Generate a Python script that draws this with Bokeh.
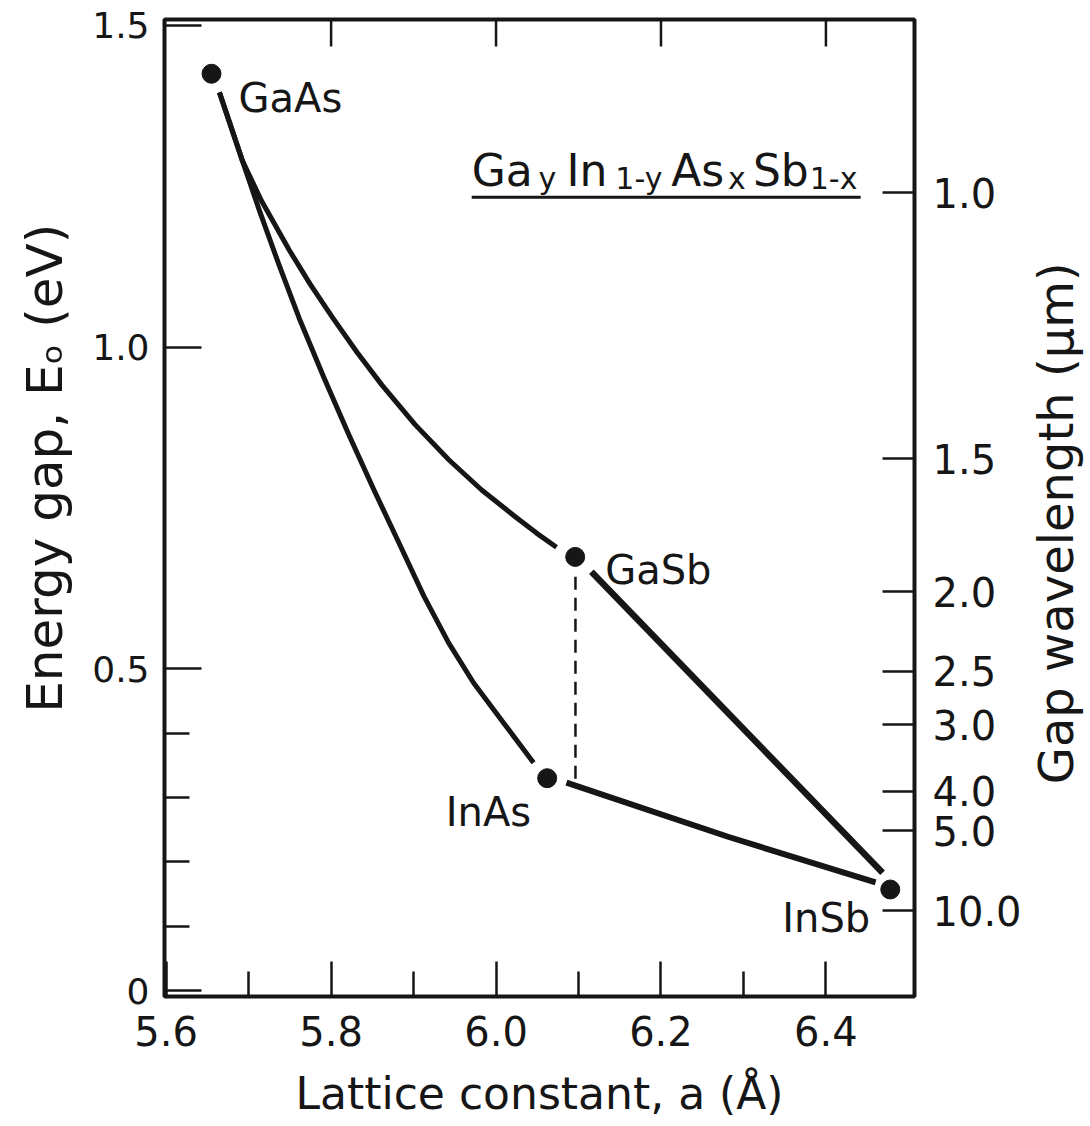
from bokeh.plotting import figure
from bokeh.models import FixedTicker, LinearAxis, Label, Range1d
from bokeh.layouts import row
from bokeh.embed import file_html
from bokeh.resources import INLINE
import math

# ---------------- data ----------------
compounds = ["GaAs", "GaSb", "InAs", "InSb"]
lattice_const = [5.655, 6.096, 6.062, 6.478]
energy_gap = [1.425, 0.674, 0.330, 0.157]

# GaAs -> GaSb (upper bowed curve)
gaas_gasb_a = [5.6646, 5.6924, 5.7154, 5.7492, 5.7746, 5.8012, 5.8314, 5.8617,
               5.9016, 5.9427, 5.9826, 6.0237, 6.0491, 6.0733]
gaas_gasb_eg = [1.396, 1.290, 1.228, 1.151, 1.098, 1.047, 0.992, 0.941,
                0.880, 0.825, 0.778, 0.736, 0.711, 0.689]

# GaAs -> InAs (lower bowed curve)
gaas_inas_a = [5.6646, 5.6924, 5.7129, 5.7371, 5.7613, 5.7915, 5.8218, 5.8520,
               5.8822, 5.9125, 5.9427, 5.9729, 6.0092, 6.0455]
gaas_inas_eg = [1.396, 1.290, 1.213, 1.127, 1.045, 0.952, 0.863, 0.778,
                0.696, 0.613, 0.540, 0.478, 0.416, 0.354]

# GaSb -> InSb
gasb_insb_a = [6.1156, 6.4687]
gasb_insb_eg = [0.651, 0.183]

# InAs -> InSb
inas_insb_a = [6.0854, 6.2813, 6.4602]
inas_insb_eg = [0.323, 0.239, 0.168]

# dashed lattice-matched line
match_a = [6.0963, 6.0963]
match_eg = [0.643, 0.328]

x_major_ticks = [5.6, 5.8, 6.0, 6.2, 6.4]
x_tick_labels = ["5.6", "5.8", "6.0", "6.2", "6.4"]
x_minor_ticks = [5.7, 5.9, 6.1, 6.3]
top_ticks = [5.8, 6.0, 6.2, 6.4]
y_major_ticks = [0.0, 0.5, 1.0, 1.5]
y_minor_ticks = [0.1, 0.2, 0.3, 0.4]
y_tick_labels = ["0", "0.5", "1.0", "1.5"]
wavelength_ticks = [1.0, 1.5, 2.0, 2.5, 3.0, 4.0, 5.0, 10.0]
wavelength_labels = ["1.0", "1.5", "2.0", "2.5", "3.0", "4.0", "5.0", "10.0"]
HC_EV_UM = 1.2398  # E(eV) = 1.2398 / lambda(um)

FONT = "DejaVu Sans"
INK = "#161616"
X0, X1 = 5.598, 6.5074
Y0, Y1 = -0.0093, 1.5093
H = 1124
TOP, BOT = 19, 128
NBSP = "\u00a0"


def bare_label_figure(width, border_left, text, font_px):
    """A narrow strip figure that only carries a (bottom-to-top) y-axis title."""
    f = figure(width=width, height=H, x_range=Range1d(0, 1), y_range=Range1d(0, 1),
               output_backend="svg", toolbar_location=None,
               min_border_left=border_left, min_border_right=0,
               min_border_top=TOP, min_border_bottom=BOT)
    f.outline_line_color = None
    f.background_fill_color = "white"
    f.border_fill_color = "white"
    f.xgrid.visible = False
    f.ygrid.visible = False
    f.xaxis.visible = False
    ax = f.yaxis[0]
    ax.ticker = FixedTicker(ticks=[], minor_ticks=[])
    ax.axis_line_color = None
    ax.major_tick_line_color = None
    ax.minor_tick_line_color = None
    ax.major_tick_out = 0
    ax.minor_tick_out = 0
    ax.major_label_standoff = 0
    ax.axis_label = text
    ax.axis_label_standoff = 0
    ax.axis_label_text_font = FONT
    ax.axis_label_text_font_size = f"{font_px}px"
    ax.axis_label_text_font_style = "normal"
    ax.axis_label_text_color = INK
    return f


# left strip: energy axis title (raised a little, as in the reference)
left_title = bare_label_figure(76, 73, NBSP * 5 + "Energy gap, Eₒ (eV)", 50)
# right strip: wavelength axis title (lowered a little)
right_title = bare_label_figure(62, 59, "Gap wavelength (μm)" + NBSP * 2, 48)

p = figure(width=948, height=H,
           x_range=Range1d(X0, X1), y_range=Range1d(Y0, Y1),
           output_backend="svg", toolbar_location=None,
           min_border_left=88, min_border_right=108,
           min_border_top=TOP, min_border_bottom=BOT)
p.background_fill_color = "white"
p.border_fill_color = "white"
p.outline_line_color = INK
p.outline_line_width = 4
p.xgrid.visible = False
p.ygrid.visible = False


def style_axis(ax, tick_in, minor_in, font_px, standoff):
    ax.axis_line_color = None
    ax.major_tick_in = tick_in
    ax.major_tick_out = 0
    ax.minor_tick_in = minor_in
    ax.minor_tick_out = 0
    ax.major_tick_line_color = INK
    ax.major_tick_line_width = 2.5
    ax.minor_tick_line_color = INK
    ax.minor_tick_line_width = 2.5
    ax.major_label_text_font = FONT
    ax.major_label_text_font_size = f"{font_px}px"
    ax.major_label_text_color = INK
    ax.major_label_standoff = standoff
    ax.axis_label_text_font = FONT
    ax.axis_label_text_font_style = "normal"
    ax.axis_label_text_color = INK


bottom = p.below[0]
bottom.ticker = FixedTicker(ticks=x_major_ticks, minor_ticks=x_minor_ticks)
bottom.major_label_overrides = {t: s for t, s in zip(x_major_ticks, x_tick_labels)}
style_axis(bottom, 35, 25, 40, 19)
bottom.axis_label = "Lattice constant, a (Å)"
bottom.axis_label_text_font_size = "44px"
bottom.axis_label_standoff = 19

left = p.left[0]
left.ticker = FixedTicker(ticks=y_major_ticks, minor_ticks=y_minor_ticks)
left.major_label_overrides = {t: s for t, s in zip(y_major_ticks, y_tick_labels)}
style_axis(left, 37, 25, 36, 15)

right_ticks = [HC_EV_UM / w for w in wavelength_ticks]
right = LinearAxis(ticker=FixedTicker(ticks=right_ticks, minor_ticks=[]))
right.major_label_overrides = {t: s for t, s in zip(right_ticks, wavelength_labels)}
style_axis(right, 32, 0, 40, 18)
p.add_layout(right, "right")

# top-edge ticks (dash markers centred on the top frame edge; outer half is clipped)
p.scatter(top_ticks, [Y1] * len(top_ticks), marker="dash", size=54, angle=math.pi / 2,
          line_color=INK, line_width=2.5)

# ---------------- curves ----------------
LW = 5
p.line(gaas_gasb_a, gaas_gasb_eg, line_width=LW, line_color=INK, line_join="round", line_cap="butt")
p.line(gaas_inas_a, gaas_inas_eg, line_width=LW, line_color=INK, line_join="round", line_cap="butt")
p.line(gasb_insb_a, gasb_insb_eg, line_width=6.5, line_color=INK, line_cap="butt")
p.line(inas_insb_a, inas_insb_eg, line_width=6, line_color=INK, line_join="round", line_cap="butt")
p.line(match_a, match_eg, line_width=2.5, line_color=INK, line_dash="13 8")

p.scatter(lattice_const, energy_gap, size=19, marker="circle", fill_color=INK, line_color=INK)

# compound labels (offsets in screen px from each point)
label_offsets = {"GaAs": (27, -24, "left"), "GaSb": (30, -13, "left"),
                 "InAs": (-16, -34, "right"), "InSb": (-20, -28, "right")}
for name, a, eg in zip(compounds, lattice_const, energy_gap):
    dx, dy, align = label_offsets[name]
    p.add_layout(Label(x=a, y=eg, x_offset=dx, y_offset=dy, text=name,
                       text_align=align, text_baseline="alphabetic",
                       text_font=FONT, text_font_size="40px", text_color=INK))

# alloy formula Ga_y In_1-y As_x Sb_1-x with underline
formula_parts = [("Ga", 5.9705, False), ("y", 6.0515, True), ("In", 6.0854, False),
                 ("1-y", 6.1446, True), ("As", 6.2123, False), ("x", 6.2813, True),
                 ("Sb", 6.3115, False), ("1-x", 6.3804, True)]
for txt, xa, sub in formula_parts:
    p.add_layout(Label(x=xa, y=1.2748 if not sub else 1.2624, text=txt,
                       text_align="left", text_baseline="alphabetic",
                       text_font=FONT, text_font_size="30px" if sub else "44px",
                       text_color=INK))
p.line([5.9705, 6.4421], [1.2329, 1.2329], line_width=3, line_color=INK)

layout = row(left_title, p, right_title, spacing=0)
open("out.html", "w").write(file_html(layout, INLINE))
